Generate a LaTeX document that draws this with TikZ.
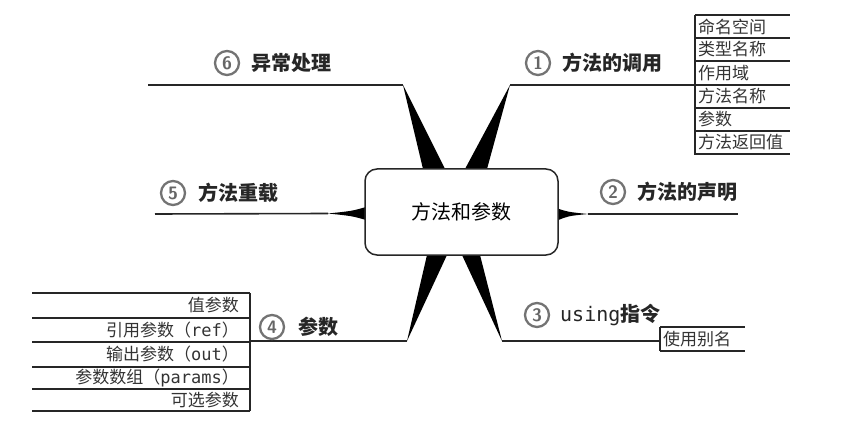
\documentclass[tikz,border=0pt]{standalone}
\usepackage{fontspec}
\newfontfamily\cjk{Noto Sans CJK SC}
\newfontfamily\mono{DejaVu Sans Mono}
\begin{document}
\begin{tikzpicture}[x=1pt,y=-1pt,
  branch/.style={line width=1.6pt,black!85},
  tline/.style={line width=1.3pt,black!85},
  wedge/.style={fill=black,draw=none},
  lab/.style={anchor=west,inner sep=0pt,font=\cjk\bfseries\fontsize{20}{23}\selectfont,text=black!85},
  item/.style={inner sep=0pt,font=\cjk\fontsize{17}{20}\selectfont,text=black!80},
  num/.style={circle,draw=black!55,line width=2.3pt,minimum size=24pt,inner sep=0pt,font=\sffamily\bfseries\fontsize{18}{18}\selectfont,text=black!60}]
\useasboundingbox (0,0) rectangle (844,441);
% coordinates of branch ends
\coordinate (t1) at (510,85);
\coordinate (t6) at (403,85);
\coordinate (t3) at (502,341);
\coordinate (t4) at (407,341);
\coordinate (e1) at (695,85);
\coordinate (e6) at (148,85);
\coordinate (e2) at (738,214);
\coordinate (e5) at (155,214);
\coordinate (e3) at (660,341);
\coordinate (e4) at (250,341);
\coordinate (w5) at (328,213.5);
\coordinate (w2) at (588,214);
% wedges
\fill[wedge] (423,169) -- (t6) -- (445,169) -- cycle;
\fill[wedge] (465,169) -- (t1) -- (487,169) -- cycle;
\fill[wedge] (427,255) -- (t4) -- (447,255) -- cycle;
\fill[wedge] (462,255) -- (t3) -- (480,255) -- cycle;
\fill[wedge] (366,207) .. controls (352,211) .. (w5) .. controls (352,216) .. (366,220) -- cycle;
\fill[wedge] (556,208) .. controls (568,212) .. (w2) .. controls (568,216) .. (556,221) -- cycle;
% branch lines
\draw[branch] (t1) -- (e1);
\draw[branch] (t6) -- (e6);
\draw[branch] (w2) -- (e2);
\draw[branch] (w5) -- (e5);
\draw[branch] (t3) -- (e3);
\draw[branch] (t4) -- (e4);
% central box
\node[draw=black!85,line width=1.5pt,fill=white,rounded corners=12pt,minimum width=193pt,minimum height=86pt,inner sep=0pt,font=\cjk\fontsize{20}{23}\selectfont] (c) at (461.5,212) {方法和参数};
% labels
\node[num] (n1) at (538,63) {1};
\node[lab] (l1) at (562,63) {方法的调用};
\node[num] (n2) at (613,192) {2};
\node[lab] (l2) at (637,192) {方法的声明};
\node[num] (n3) at (537,315) {3};
\node[lab] (l3) at (560,315) {{\mono\mdseries using}指令};
\node[num] (n4) at (272,327) {4};
\node[lab] (l4) at (298,327) {参数};
\node[num] (n5) at (173,193) {5};
\node[lab] (l5) at (198,193) {方法重载};
\node[num] (n6) at (227,63) {6};
\node[lab] (l6) at (251,63) {异常处理};
% table 1
\draw[tline] (695,15) -- (695,155);
\foreach \y in {15,38,61,85,108,131,154} \draw[tline] (695,\y) -- (790,\y);
\node[item,anchor=west] (a1) at (698,26.5) {命名空间};
\node[item,anchor=west] (a2) at (698,49.5) {类型名称};
\node[item,anchor=west] (a3) at (698,73) {作用域};
\node[item,anchor=west] (a4) at (698,96.5) {方法名称};
\node[item,anchor=west] (a5) at (698,119.5) {参数};
\node[item,anchor=west] (a6) at (698,142.5) {方法返回值};
% table 3
\draw[tline] (660,327) -- (660,351);
\draw[tline] (660,327) -- (745,327);
\draw[tline] (660,351) -- (745,351);
\node[item,anchor=west] (b1) at (663,339) {使用别名};
% table 4
\draw[tline] (250,293) -- (250,411);
\foreach \y in {293,318,342,367,389,411} \draw[tline] (32,\y) -- (250,\y);
\node[item,anchor=east] (d1) at (239,305.5) {值参数};
\node[item,anchor=east] (d2) at (239,330) {引用参数（{\mono ref}）};
\node[item,anchor=east] (d3) at (239,354.5) {输出参数（{\mono out}）};
\node[item,anchor=east] (d4) at (239,378) {参数数组（{\mono params}）};
\node[item,anchor=east] (d5) at (239,400) {可选参数};
\end{tikzpicture}
\end{document}
